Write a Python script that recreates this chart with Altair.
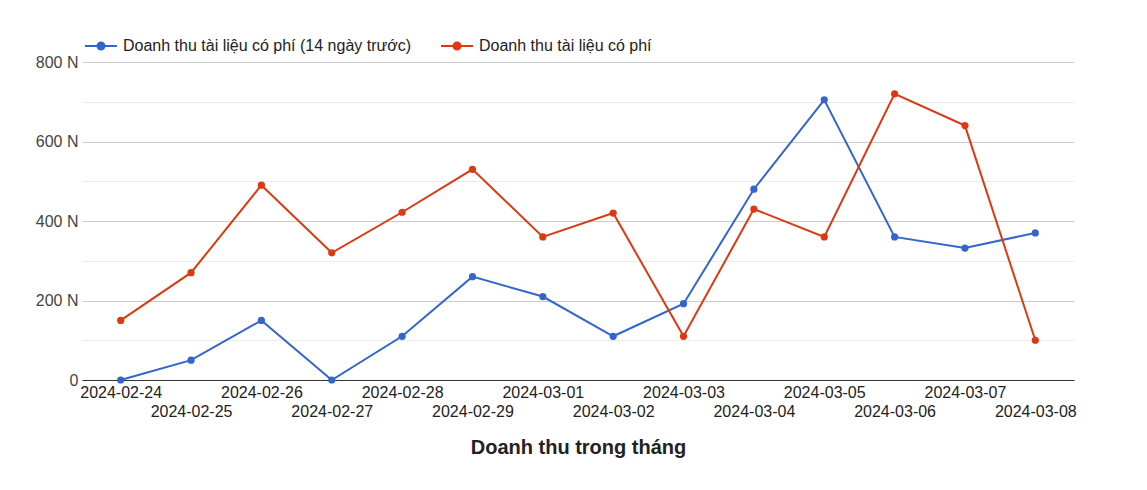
import altair as alt
import pandas as pd

dates = [
    "2024-02-24", "2024-02-25", "2024-02-26", "2024-02-27", "2024-02-28",
    "2024-02-29", "2024-03-01", "2024-03-02", "2024-03-03", "2024-03-04",
    "2024-03-05", "2024-03-06", "2024-03-07", "2024-03-08",
]
prev_14_days = [0, 50, 150, 0, 110, 260, 210, 110, 192, 480, 705, 360, 332, 370]
current = [150, 270, 490, 320, 422, 530, 360, 420, 110, 430, 360, 720, 640, 100]

series_names = [
    "Doanh thu tài liệu có phí (14 ngày trước)",
    "Doanh thu tài liệu có phí",
]
series_colors = ["#3366cc", "#dc3912"]

df = pd.concat([
    pd.DataFrame({"date": dates, "value": prev_14_days, "series": series_names[0]}),
    pd.DataFrame({"date": dates, "value": current, "series": series_names[1]}),
])

FONT = "Liberation Sans"

# legend symbol: short line with a dot in the middle
legend_symbol = "M-1,0H1M0.22,0A0.22,0.22,0,1,1,-0.22,0A0.22,0.22,0,1,1,0.22,0Z"

color = alt.Color(
    "series:N",
    scale=alt.Scale(domain=series_names, range=series_colors),
    legend=alt.Legend(
        title=None,
        orient="none",
        legendX=2,
        legendY=-33,
        direction="horizontal",
        symbolType=legend_symbol,
        symbolSize=1024,
        symbolStrokeWidth=2,
        labelFont=FONT,
        labelFontSize=16,
        labelColor="#222222",
        labelOffset=5,
        columnPadding=25,
        labelLimit=400,
    ),
)

x = alt.X(
    "date:N",
    sort=dates,
    scale=alt.Scale(padding=0.55),
    axis=alt.Axis(
        title="Doanh thu trong tháng",
        titleFont=FONT,
        titleFontSize=20,
        titleFontWeight="bold",
        titleColor="#222222",
        titlePadding=18,
        labelAngle=0,
        labelFont=FONT,
        labelFontSize=16,
        labelColor="#222222",
        labelOverlap=False,
        labelBaseline="top",
        labelPadding={"condition": {"test": "round(datum.index * 13) % 2 == 1", "value": 23}, "value": 4.5},
        ticks=False,
        tickSize=0,
        grid=False,
        domainColor="#333333",
        domainWidth=1,
    ),
)

y = alt.Y(
    "value:Q",
    scale=alt.Scale(domain=[0, 800], nice=False),
    axis=alt.Axis(
        title=None,
        values=[0, 100, 200, 300, 400, 500, 600, 700, 800],
        labelExpr="datum.value == 0 ? '0' : (datum.value % 200 == 0 ? datum.value + ' N' : '')",
        labelFont=FONT,
        labelFontSize=16,
        labelColor="#444444",
        labelPadding=4,
        ticks=False,
        tickSize=0,
        domain=False,
        gridColor={"condition": {"test": "datum.value % 200 == 0", "value": "#cccccc"}, "value": "#ebebeb"},
        gridWidth=1,
    ),
)

lines = alt.Chart(df).mark_line(strokeWidth=2).encode(x=x, y=y, color=color)
points = alt.Chart(df).mark_point(filled=True, size=52, opacity=1).encode(x=x, y=y, color=color)

chart = alt.layer(lines, points).properties(
    width=992,
    height=318,
    autosize=alt.AutoSizeParams(type="none"),
    padding={"left": 74, "top": 54, "right": 60, "bottom": 92},
).configure_view(stroke=None)

chart.save("out.html", embed_options={"renderer": "svg", "actions": False})
